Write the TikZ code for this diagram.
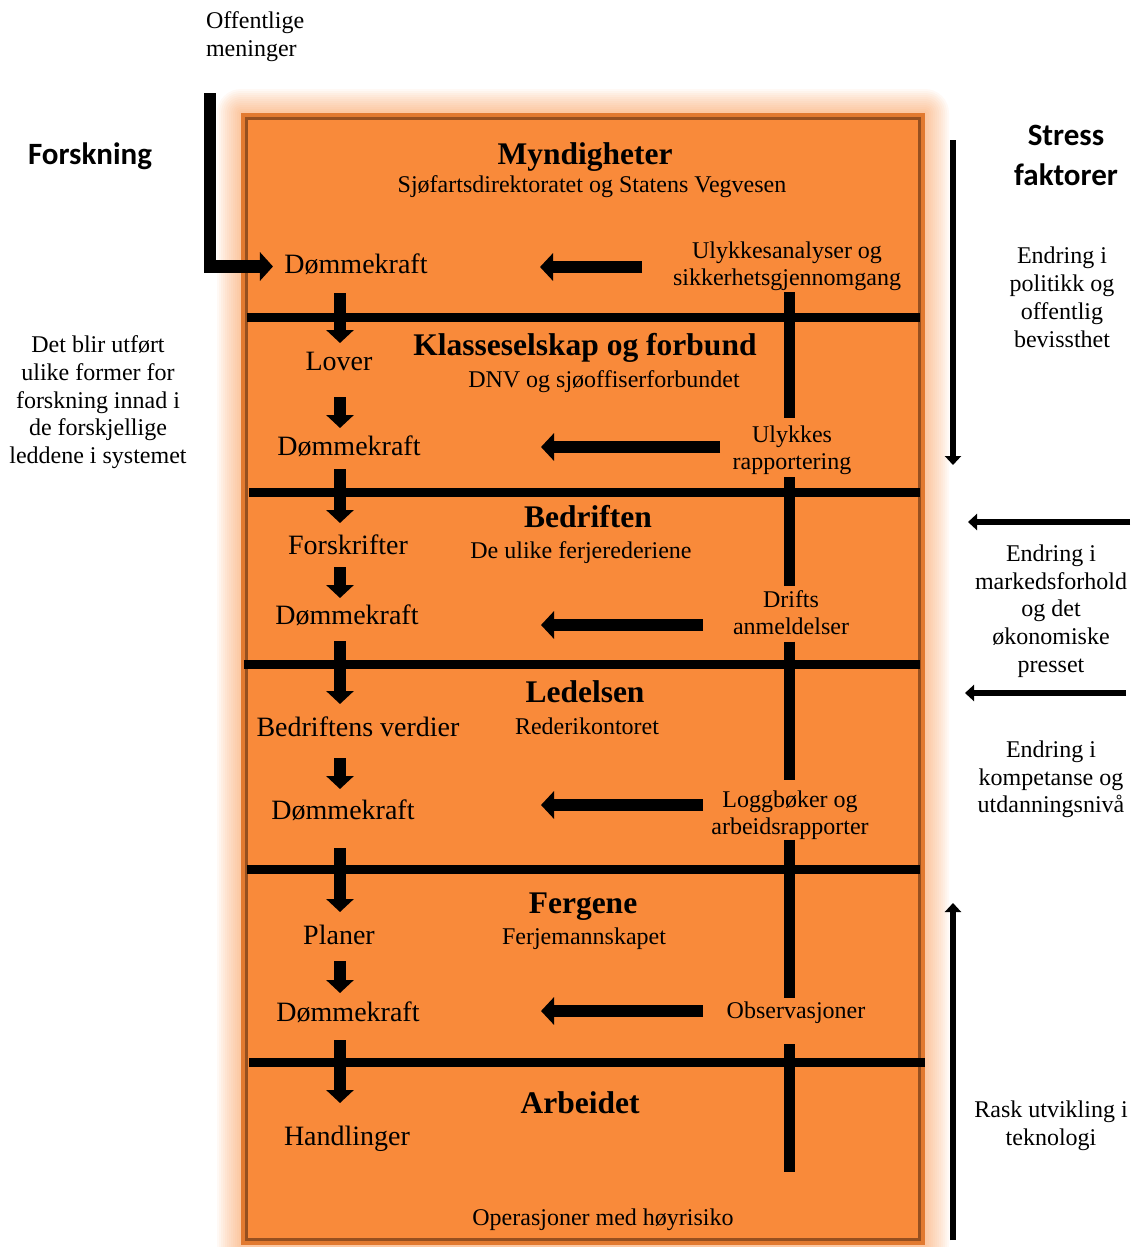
\documentclass[tikz,border=0pt]{standalone}
\usepackage{fontspec}
\setmainfont{Liberation Serif}
\newfontfamily\carl{Carlito}
\usetikzlibrary{arrows.meta}
\definecolor{orF}{RGB}{249,138,58}
\definecolor{edgeA}{RGB}{226,122,48}
\definecolor{edgeD}{RGB}{150,80,32}
\begin{document}
\begin{tikzpicture}[x=1pt,y=-1pt,
  every node/.style={inner sep=0pt, outer sep=0pt},
  lvl/.style={font=\fontsize{28}{32}\selectfont, anchor=base, text height=19pt, text depth=6pt},
  ttl/.style={font=\fontsize{31.5}{36}\selectfont\bfseries, anchor=base},
  sub/.style={font=\fontsize{24}{27}\selectfont, anchor=base},
  lab/.style={font=\fontsize{24}{27}\selectfont, align=center, anchor=north},
  side/.style={font=\fontsize{24}{27.6}\selectfont, align=center, anchor=north},
  head/.style={font=\carl\fontsize{31}{40}\selectfont\bfseries, align=center},
  darr/.style={line width=12pt, -{Triangle[length=13pt,width=27pt]}},
  thinarr/.style={line width=6.5pt, -{Triangle[length=9pt,width=16pt]}},
  sepline/.style={line width=9pt},
  vbar/.style={line width=11pt},
]
\useasboundingbox (0,0) rectangle (1135,1247);
% glow
\foreach \i in {1,...,12} {
  \fill[orF, opacity=0.05, rounded corners=2pt*\i] ({241-2*\i},{113-2*\i}) rectangle ({925+2*\i},{1245+2*\i});
}
% box
\fill[edgeA] (241,113) rectangle (925,1245);
\fill[edgeD] (245,117) rectangle (921,1241);
\fill[orF] (248,120) rectangle (918,1238);
% separators
\draw[sepline] (247,317) -- (920,317);
\draw[sepline] (249,492) -- (920,492);
\draw[sepline] (244,664) -- (920,664);
\draw[sepline] (247,869) -- (920,869);
\draw[sepline] (249,1062) -- (925,1062);

% titles
\node[ttl] (t1) at (585,164) {Myndigheter};
\node[sub] (s1) at (592,192) {Sjøfartsdirektoratet og Statens Vegvesen};
\node[ttl] (t2) at (585,355) {Klasseselskap og forbund};
\node[sub] (s2) at (604,387) {DNV og sjøoffiserforbundet};
\node[ttl] (t3) at (588,527) {Bedriften};
\node[sub] (s3) at (581,558) {De ulike ferjerederiene};
\node[ttl] (t4) at (585,702) {Ledelsen};
\node[sub] (s4) at (587,734) {Rederikontoret};
\node[ttl] (t5) at (583,913) {Fergene};
\node[sub] (s5) at (584,944) {Ferjemannskapet};
\node[ttl] (t6) at (580,1113) {Arbeidet};
\node[sub] (s6) at (603,1225) {Operasjoner med høyrisiko};

% left column
\node[lvl] (d1) at (356,273) {Dømmekraft};
\node[lvl] (lover) at (339,370) {Lover};
\node[lvl] (d2) at (349,455) {Dømmekraft};
\node[lvl] (forsk) at (348,554) {Forskrifter};
\node[lvl] (d3) at (347,624) {Dømmekraft};
\node[lvl] (verdier) at (358,736) {Bedriftens verdier};
\node[lvl] (d4) at (343,819) {Dømmekraft};
\node[lvl] (planer) at (339,944) {Planer};
\node[lvl] (d5) at (348,1021) {Dømmekraft};
\node[lvl] (handl) at (347,1145) {Handlinger};
\coordinate (lax) at (340,0);

\draw[darr, shorten <=14pt, shorten >=8pt] (d1.south -| lax) -- (lover.north -| lax);
\draw[darr, shorten <=21pt, shorten >=8pt] (lover.south -| lax) -- (d2.north -| lax);
\draw[darr, shorten <=8pt, shorten >=12pt] (d2.south -| lax) -- (forsk.north -| lax);
\draw[darr, shorten <=7pt, shorten >=7pt] (forsk.south -| lax) -- (d3.north -| lax);
\draw[darr, shorten <=11pt, shorten >=13pt] (d3.south -| lax) -- (verdier.north -| lax);
\draw[darr, shorten <=16pt, shorten >=11pt] (verdier.south -| lax) -- (d4.north -| lax);
\draw[darr, shorten <=23pt, shorten >=13pt] (d4.south -| lax) -- (planer.north -| lax);
\draw[darr, shorten <=11pt, shorten >=9pt] (planer.south -| lax) -- (d5.north -| lax);
\draw[darr, shorten <=13pt, shorten >=23pt] (d5.south -| lax) -- (handl.north -| lax);

% right column
\node[lab] (ua) at (787,242) {Ulykkesanalyser og\\sikkerhetsgjennomgang};
\node[lab] (ur) at (792,426) {Ulykkes\\rapportering};
\node[lab] (dr) at (791,591) {Drifts\\anmeldelser};
\node[lab] (lg) at (790,791) {Loggbøker og\\arbeidsrapporter};
\node[sub] (obs) at (796,1018) {Observasjoner};
\coordinate (rax) at (789,0);
\coordinate (vend) at (789,1172);
\draw[vbar, shorten <=1.5pt, shorten >=8pt] (ua.south -| rax) -- (ur.north -| rax);
\draw[vbar, shorten <=2.5pt, shorten >=5pt] (ur.south -| rax) -- (dr.north -| rax);
\draw[vbar, shorten <=6.5pt, shorten >=11pt] (dr.south -| rax) -- (lg.north -| rax);
\draw[vbar, shorten >=3.6pt] (lg.south -| rax) -- (obs.north -| rax);
\draw[vbar, shorten <=21pt] (obs.south -| rax) -- (vend);

% horizontal arrows
\coordinate (h1s) at (642,267); \coordinate (h1e) at (540,267);
\coordinate (h2s) at (720,447); \coordinate (h2e) at (541,447);
\coordinate (h3s) at (703,625); \coordinate (h3e) at (541,625);
\coordinate (h4s) at (703,805); \coordinate (h4e) at (541,805);
\coordinate (h5s) at (703,1011); \coordinate (h5e) at (541,1011);
\draw[darr] (h1s) -- (h1e);
\draw[darr] (h2s) -- (h2e);
\draw[darr] (h3s) -- (h3e);
\draw[darr] (h4s) -- (h4e);
\draw[darr] (h5s) -- (h5e);

% offentlige meninger
\node[side, align=left, anchor=north west] (offm) at (206,12) {Offentlige\\meninger};
\coordinate (bstart) at (210,93);
\draw[line width=12.5pt, line join=miter, -{Triangle[length=13pt,width=28pt]}, shorten >=11.5pt] (bstart) |- (d1);

% left side
\node[head, anchor=base] (forskning) at (90,164) {Forskning};
\node[side] (forsktxt) at (98,336) {Det blir utført\\ulike former for\\forskning innad i\\de forskjellige\\leddene i systemet};

% right side
\node[head, anchor=north] (stress) at (1066,125) {Stress\\faktorer};
\node[side, font=\fontsize{24}{28}\selectfont] (pol) at (1062,247) {Endring i\\politikk og\\offentlig\\bevissthet};
\node[side] (mark) at (1051,545) {Endring i\\markedsforhold\\og det\\økonomiske\\presset};
\node[side] (komp) at (1051,741) {Endring i\\kompetanse og\\utdanningsnivå};
\node[side] (rask) at (1051,1101) {Rask utvikling i\\teknologi};

\coordinate (sd1) at (953,140); \coordinate (sd2) at (953,465);
\coordinate (m1s) at (1130,522); \coordinate (m1e) at (968,522);
\coordinate (m2s) at (1126,693); \coordinate (m2e) at (965,693);
\coordinate (up1) at (953,1240); \coordinate (up2) at (953,903);
\draw[thinarr] (sd1) -- (sd2);
\draw[thinarr] (m1s) -- (m1e);
\draw[thinarr] (m2s) -- (m2e);
\draw[thinarr] (up1) -- (up2);
\end{tikzpicture}
\end{document}
